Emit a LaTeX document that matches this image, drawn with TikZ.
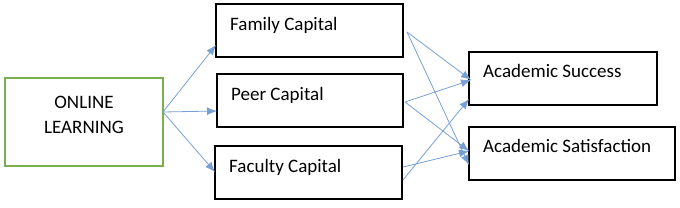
\documentclass[tikz,border=0pt]{standalone}
\usepackage{fontspec}
\setmainfont{Carlito}
\usetikzlibrary{arrows.meta,calc}
\definecolor{arr}{RGB}{120,160,212}
\definecolor{grn}{RGB}{122,174,80}
\begin{document}
\begin{tikzpicture}[x=1pt,y=-1pt,
  box/.style={draw=black,line width=1.5pt,anchor=north west,inner sep=0pt,outer sep=0pt},
  txt/.style={anchor=base west,inner sep=0pt,font=\fontsize{19}{23}\selectfont},
  con/.style={draw=arr,line width=0.8pt,-{Latex[length=10pt,width=8pt]}}]
\useasboundingbox (0,0) rectangle (680,207);
% boxes
\node[box,draw=grn,minimum width=158pt,minimum height=88pt] (ol) at (5,78) {};
\node[box,minimum width=187pt,minimum height=53pt] (fam) at (216,4) {};
\node[box,minimum width=186pt,minimum height=53pt] (peer) at (217,74) {};
\node[box,minimum width=187pt,minimum height=53pt] (fac) at (215,146) {};
\node[box,minimum width=188pt,minimum height=53pt] (suc) at (469,52) {};
\node[box,minimum width=206pt,minimum height=53pt] (sat) at (469,127) {};
% texts
\node[anchor=base,inner sep=0pt,font=\fontsize{19}{23}\selectfont] (olt1) at (84,108) {ONLINE};
\node[anchor=base,inner sep=0pt,font=\fontsize{19}{23}\selectfont] (olt2) at (84,133) {LEARNING};
\node[txt] (famt) at (230,30) {Family Capital};
\node[txt] (peert) at (231,100) {Peer Capital};
\node[txt] (fact) at (229,172) {Faculty Capital};
\node[txt] (suct) at (483,77) {Academic Success};
\node[txt] (satt) at (483,152) {Academic Satisfaction};
% connector endpoints
\coordinate (o1) at ($(ol.north east)+(0,34)$);
\coordinate (f1) at ($(fam.north west)+(0,41)$);
\coordinate (p1) at ($(peer.north west)+(0,37)$);
\coordinate (c1) at ($(fac.north west)+(0,26)$);
\coordinate (fo) at ($(fam.north east)+(4,28)$);
\coordinate (po) at ($(peer.north east)+(2,28)$);
\coordinate (co1) at ($(fac.north east)+(1,21)$);
\coordinate (co2) at ($(fac.north east)+(1,34)$);
\coordinate (s1) at ($(suc.north west)+(2,28)$);
\coordinate (s2) at ($(suc.north west)+(0,47)$);
\coordinate (t1) at ($(sat.north west)+(0,24)$);
\coordinate (t2) at ($(sat.north west)+(0,38)$);
% connectors
\draw[con] (o1) -- (f1);
\draw[con] (o1) -- (p1);
\draw[con] (o1) -- (c1);
\draw[con] (fo) -- (s1);
\draw[con] (fo) -- (t2);
\draw[con] (po) -- (s1);
\draw[con] (po) -- (t1);
\draw[con] (co1) -- (t1);
\draw[con] (co2) -- (s2);
\end{tikzpicture}
\end{document}
